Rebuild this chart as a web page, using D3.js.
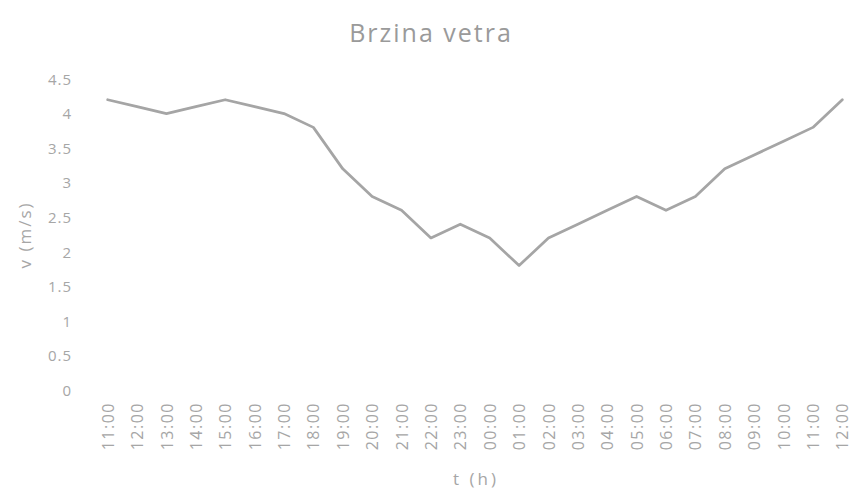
<!DOCTYPE html>
<html>
<head>
<meta charset="utf-8">
<script src="https://cdn.jsdelivr.net/npm/d3@7"></script>
<style>
  body { margin: 0; background: #fff; }
  svg text { font-family: "Open Sans", "DejaVu Sans", sans-serif; fill: #a6a6a6; }
</style>
</head>
<body>
<svg id="chart" width="852" height="494"></svg>
<script>
// hours along the x axis
const hours = ["11:00","12:00","13:00","14:00","15:00","16:00","17:00","18:00","19:00",
  "20:00","21:00","22:00","23:00","00:00","01:00","02:00","03:00","04:00","05:00",
  "06:00","07:00","08:00","09:00","10:00","11:00 ","12:00 "];
// wind speed v (m/s)
const speed = [4.2,4.1,4.0,4.1,4.2,4.1,4.0,3.8,3.2,2.8,2.6,2.2,2.4,2.2,1.8,2.2,2.4,
  2.6,2.8,2.6,2.8,3.2,3.4,3.6,3.8,4.2];
const yTicks = [0,0.5,1,1.5,2,2.5,3,3.5,4,4.5];

const svg = d3.select("#chart");
const width = 852, height = 494;

const x = d3.scalePoint()
    .domain(hours)
    .range([93, 857])
    .padding(0.5);

const y = d3.scaleLinear()
    .domain([0, 4.5])
    .range([390, 79]);

// title
svg.append("text")
    .attr("x", 431)
    .attr("y", 42)
    .attr("text-anchor", "middle")
    .style("font-size", "25px")
    .style("letter-spacing", "2px")
    .style("fill", "#9a9a9a")
    .text("Brzina vetra");

// y axis labels
const yAxis = svg.append("g")
    .attr("transform", "translate(76,0)")
    .call(d3.axisLeft(y).tickValues(yTicks).tickSize(0).tickPadding(4)
        .tickFormat(d => String(d)));
yAxis.select(".domain").remove();
yAxis.selectAll("text")
    .style("font-size", "15px")
    .style("letter-spacing", "1px")
    .attr("dy", "0.35em");

// x axis labels (rotated)
const xAxis = svg.append("g")
    .attr("transform", "translate(0,398)")
    .call(d3.axisBottom(x).tickSize(0).tickFormat(d => d.trim()));
xAxis.select(".domain").remove();
xAxis.selectAll("text")
    .style("font-size", "16px")
    .style("letter-spacing", "1.5px")
    .attr("text-anchor", "end")
    .attr("transform", "rotate(-90)")
    .attr("x", -4)
    .attr("y", 0)
    .attr("dy", "0.35em");

// axis titles
svg.append("text")
    .attr("transform", "translate(25,235) rotate(-90)")
    .attr("text-anchor", "middle")
    .attr("dy", "0.35em")
    .style("font-size", "17px")
    .style("letter-spacing", "2px")
    .text("v (m/s)");

svg.append("text")
    .attr("x", 476)
    .attr("y", 485)
    .attr("text-anchor", "middle")
    .style("font-size", "17px")
    .style("letter-spacing", "3px")
    .text("t (h)");

// the line
const line = d3.line()
    .x((d, i) => x(hours[i]))
    .y(d => y(d));

svg.append("path")
    .datum(speed)
    .attr("fill", "none")
    .attr("stroke", "#a5a5a5")
    .attr("stroke-width", 2.75)
    .attr("stroke-linejoin", "round")
    .attr("stroke-linecap", "round")
    .attr("d", line);
</script>
</body>
</html>
